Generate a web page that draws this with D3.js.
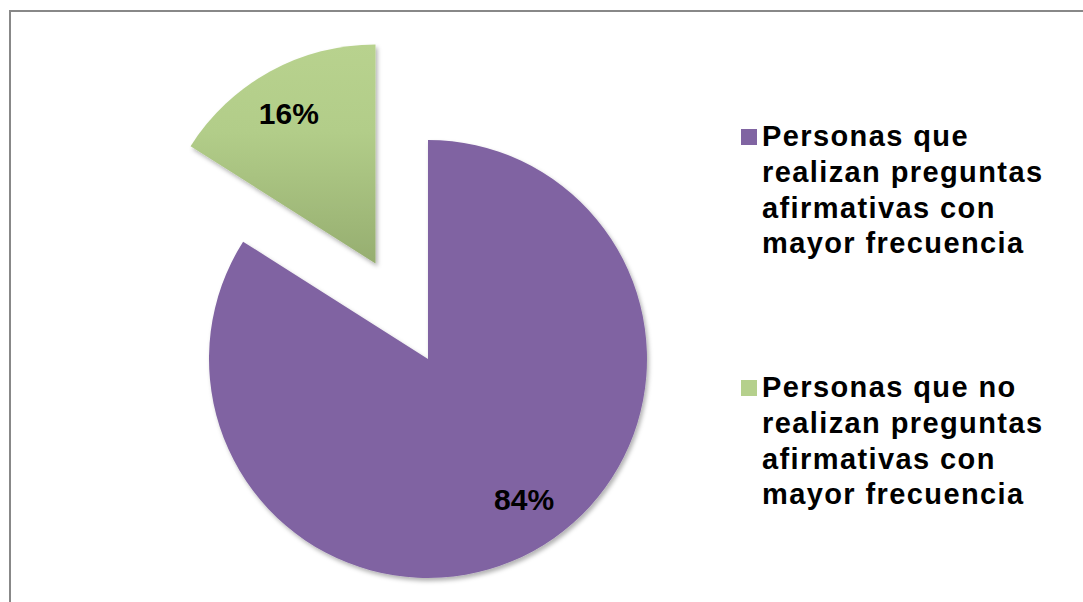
<!DOCTYPE html>
<html>
<head>
<meta charset="utf-8">
<script src="https://cdn.jsdelivr.net/npm/d3@7"></script>
<style>
  html, body { margin: 0; padding: 0; background: #fff; }
  svg { display: block; }
  text { font-family: Arial, "Liberation Sans", sans-serif; font-weight: bold; }
</style>
</head>
<body>
<svg id="chart" width="1083" height="602"></svg>
<script>
// Survey shares
const categories = [
  "Personas que realizan preguntas afirmativas con mayor frecuencia",
  "Personas que no realizan preguntas afirmativas con mayor frecuencia"
];
const legendLines = [
  ["Personas que", "realizan preguntas", "afirmativas con", "mayor frecuencia"],
  ["Personas que no", "realizan preguntas", "afirmativas con", "mayor frecuencia"]
];
const values = [84, 16];
const valueLabels = ["84%", "16%"];

const W = 1083, H = 602;
const cx = 428, cy = 359, R = 219;
const explode = [0, 109];          // px pulled out along each slice bisector
const labelRadius = [170, 173];    // distance of each value label from its slice apex
const labelTurn = [-0.098, -0.022]; // small angular nudge of the value labels (rad)

const svg = d3.select("#chart");
const defs = svg.append("defs");

// soft drop shadow under the slices
const f = defs.append("filter").attr("id", "shadow")
  .attr("x", "-20%").attr("y", "-20%").attr("width", "140%").attr("height", "140%");
f.append("feDropShadow").attr("dx", 2).attr("dy", 3).attr("stdDeviation", 2)
  .attr("flood-color", "#000").attr("flood-opacity", 0.3);

// green slice fades from light at top to darker at bottom
const g1 = defs.append("linearGradient").attr("id", "greenGrad")
  .attr("x1", 0).attr("y1", 0).attr("x2", 0).attr("y2", 1);
g1.append("stop").attr("offset", "0%").attr("stop-color", "#b8d28e");
g1.append("stop").attr("offset", "40%").attr("stop-color", "#b2cd89");
g1.append("stop").attr("offset", "100%").attr("stop-color", "#96ae70");

const fills = ["#8064a2", "url(#greenGrad)"];
const swatch = ["#8064a2", "#b5d08c"];

// outer frame
svg.append("rect")
  .attr("x", 10).attr("y", 11).attr("width", W + 20).attr("height", H + 20)
  .attr("fill", "#fff").attr("stroke", "#888").attr("stroke-width", 2);

const pie = d3.pie().sort(null).value(d => d)(values);
const arc = d3.arc().innerRadius(0).outerRadius(R);

const slices = svg.append("g").attr("transform", `translate(${cx},${cy})`);

const offsetOf = (d, i) => d3.pointRadial((d.startAngle + d.endAngle) / 2, explode[i]);

pie.forEach((d, i) => {
  const [ox, oy] = offsetOf(d, i);
  slices.append("path")
    .attr("transform", `translate(${ox},${oy})`)
    .attr("d", arc(d)).attr("fill", fills[i]).attr("filter", "url(#shadow)");
});

pie.forEach((d, i) => {
  const [ox, oy] = offsetOf(d, i);
  const mid = (d.startAngle + d.endAngle) / 2 + labelTurn[i];
  const [lx, ly] = d3.pointRadial(mid, labelRadius[i]);
  slices.append("text")
    .attr("x", lx + ox).attr("y", ly + oy)
    .attr("text-anchor", "middle").attr("dominant-baseline", "central")
    .attr("font-size", 30).attr("fill", "#000")
    .text(valueLabels[i]);
});

// legend
const legendTop = [146, 397];
const lineH = 35.8;
const legend = svg.append("g");
categories.forEach((c, i) => {
  legend.append("rect")
    .attr("x", 741).attr("y", legendTop[i] - 17).attr("width", 16).attr("height", 16)
    .attr("fill", swatch[i]);
  const t = legend.append("text")
    .attr("x", 762).attr("y", legendTop[i])
    .attr("font-size", 29).attr("letter-spacing", 1.4).attr("fill", "#000");
  legendLines[i].forEach((ln, j) => {
    t.append("tspan").attr("x", 762).attr("y", legendTop[i] + j * lineH).text(ln);
  });
});
</script>
</body>
</html>
